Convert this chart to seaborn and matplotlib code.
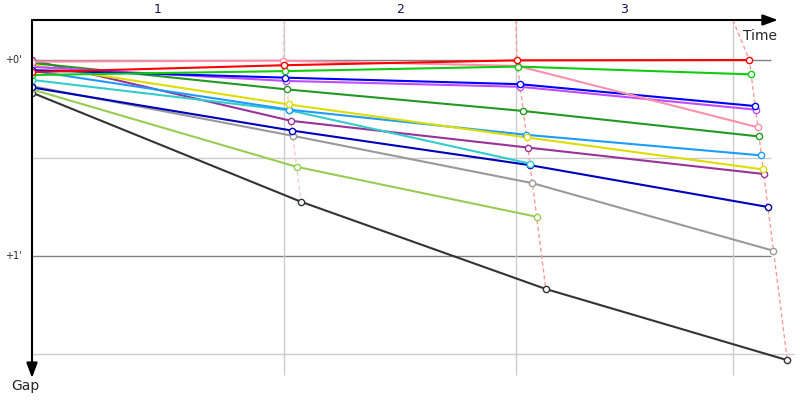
import numpy as np
import matplotlib
matplotlib.use("Agg")
import matplotlib.pyplot as plt
import seaborn as sns

# Gap to the leader (seconds) at start, lap 1, lap 2, lap 3 for each car
cars = ["car01", "car02", "car03", "car04", "car05", "car06", "car07",
        "car08", "car09", "car10", "car11", "car12", "car13", "car14"]
colors = ["#ff0000", "#11cc11", "#ff8fab", "#0000ff", "#c04dff", "#229922", "#dddd00",
          "#1e9bff", "#33cccc", "#993399", "#0000bb", "#999999", "#99cc55", "#333333"]
gap_start = [3.7, 4.6, 0.5, 3.1, 2.1, 0.9, 1.5, 3.3, 6.1, 0.1, 8.4, 8.0, 9.0, 10.0]
gap_lap1 = [1.6, 3.4, 0.2, 5.4, 6.4, 9.0, 13.6, 15.2, 15.4, 18.6, 21.6, 23.2, 32.7, 43.4]
gap_lap2 = [0.1, 2.0, 1.8, 7.4, 8.2, 15.6, 23.7, 22.9, 31.7, 26.8, 32.2, 37.7, 48.0, 70.1]
gap_lap3 = [0.0, 4.4, 20.6, 14.1, 15.2, 23.4, 33.5, 29.2, np.nan, 34.9, 45.0, 58.4, np.nan, 91.9]

# leader's crossing time per lap (s), lap marks on the time axis
leader_time = [0, 608, 1174, 1737]
lap_marks = [610, 1172, 1697]
lap_labels = ["1", "2", "3"]

X_MAX = 1847.5
Y_TOP = -12.25
Y_BOT = 97.35

sns.set_style("white")
fig = plt.figure(figsize=(8, 4), dpi=100)
ax = fig.add_axes([32 / 800, 22 / 400, 763 / 800, 358 / 400])
ax.set_xlim(0, X_MAX)
ax.set_ylim(Y_BOT, Y_TOP)
ax.axis("off")

# grid
ax.hlines([0, 60], 0, 1789, color="#808080", lw=1, zorder=1)
ax.hlines([30], 0, 1789, color="#cccccc", lw=1, zorder=1)
ax.hlines([90], 0, X_MAX, color="#cccccc", lw=1, zorder=1)
ax.vlines(lap_marks, Y_TOP, 96.4, color="#cccccc", lw=1, zorder=1)

gaps = np.array([gap_start, gap_lap1, gap_lap2, gap_lap3], dtype=float).T

# lap lines (dashed), joining every car at the end of each lap
for k in range(1, 4):
    g = gaps[:, k]
    g = np.sort(g[~np.isnan(g)])
    t = leader_time[k] + g
    lt = np.concatenate([[lap_marks[k - 1]], t])
    lg = np.concatenate([[Y_TOP], g])
    col = "#ffc8d0" if k == 1 else "#ff9a9a"
    ax.plot(lt, lg, color=col, lw=1, ls=(0, (3, 2)), zorder=2)

# one line per car, markers on top of all lines
for i in reversed(range(len(cars))):
    g = gaps[i]
    t = np.array(leader_time, dtype=float) + g
    t[0] = leader_time[0]
    ok = ~np.isnan(g)
    sns.lineplot(x=t[ok], y=g[ok], ax=ax, color=colors[i], lw=1.5,
                 estimator=None, sort=False, zorder=3)
for i in reversed(range(len(cars))):
    g = gaps[i]
    t = np.array(leader_time, dtype=float) + g
    t[0] = leader_time[0]
    ok = ~np.isnan(g)
    ax.plot(t[ok], g[ok], ls="none", marker="o", markersize=4.5,
            markerfacecolor="white", markeredgecolor=colors[i],
            markeredgewidth=1, zorder=4)

# axes with arrows
ax.annotate("", xy=(1806, Y_TOP), xytext=(0, Y_TOP),
            arrowprops=dict(arrowstyle="-|>,head_length=0.6,head_width=0.22",
                            color="black", lw=1.5, mutation_scale=15, shrinkA=0, shrinkB=0),
            annotation_clip=False, zorder=10)
ax.annotate("", xy=(0, Y_BOT), xytext=(0, Y_TOP),
            arrowprops=dict(arrowstyle="-|>,head_length=0.6,head_width=0.22",
                            color="black", lw=1.5, mutation_scale=15, shrinkA=0, shrinkB=0),
            annotation_clip=False, zorder=10)

ax.text(1763, -7.5, "Time", ha="center", va="center", fontsize=10, clip_on=False)
ax.annotate("Gap", xy=(0, Y_BOT), xytext=(-7, -1), textcoords="offset pixels",
            ha="center", va="top", fontsize=10, annotation_clip=False)

for val, lab in [(0, "+0'"), (60, "+1'")]:
    ax.annotate(lab, xy=(0, val), xytext=(-10, 0), textcoords="offset pixels",
                ha="right", va="center", fontsize=7, annotation_clip=False)

bounds = [0] + lap_marks
for k, lab in enumerate(lap_labels):
    ax.annotate(lab, xy=((bounds[k] + bounds[k + 1]) / 2, Y_TOP), xytext=(0, 4),
                textcoords="offset pixels", ha="center", va="bottom",
                fontsize=9, color="#14145a", annotation_clip=False)

fig.savefig("out.png", dpi=100)
